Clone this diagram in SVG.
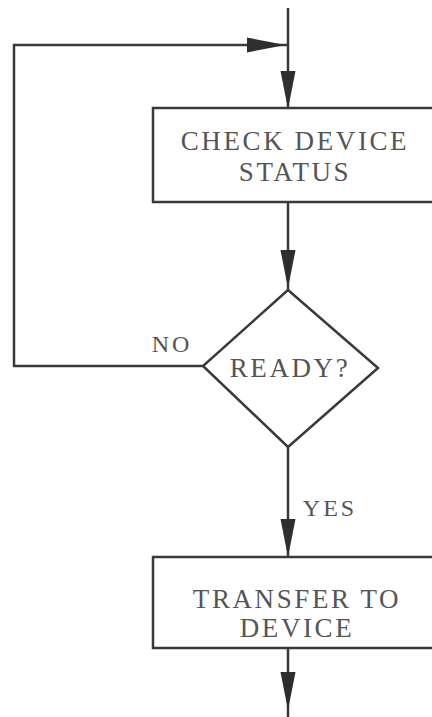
<svg xmlns="http://www.w3.org/2000/svg" width="432" height="717" viewBox="0 0 432 717">
  <style>
    .line { fill: none; stroke: #3a3a3a; stroke-width: 2.5; }
    .shape { fill: #ffffff; stroke: #3a3a3a; stroke-width: 2.5; }
    .label { font-family: "Liberation Serif", "Times New Roman", serif; fill: #555555; text-anchor: middle; }
    .big { font-size: 27px; letter-spacing: 2.6px; }
    .small { font-size: 24px; letter-spacing: 3px; }
    .head { fill: #2e2e2e; }
  </style>
  <defs>
    <!-- narrow tapered arrowhead pointing down, tip at origin -->
    <path id="arrowDown" class="head" d="M -7.5 -36 L 7.5 -36 L 1.2 -4 L 0 0 L -1.2 -4 Z"/>
  </defs>

  <rect width="432" height="717" fill="#ffffff"/>

  <g id="connectors">
    <!-- entry line and loop junction -->
    <path class="line" d="M 288 8 L 288 108"/>
    <path class="line" d="M 203 366 L 14 366 L 14 45 L 288 45"/>
    <!-- check -> decision -->
    <path class="line" d="M 288 202 L 288 290"/>
    <!-- decision -> transfer -->
    <path class="line" d="M 288 447 L 288 557"/>
    <!-- exit -->
    <path class="line" d="M 288 648 L 288 717"/>

    <use href="#arrowDown" transform="translate(283 45) rotate(-90)"/>
    <use href="#arrowDown" transform="translate(288 107)"/>
    <use href="#arrowDown" transform="translate(288 286)"/>
    <use href="#arrowDown" transform="translate(288 555)"/>
    <use href="#arrowDown" transform="translate(288 708)"/>

    <text class="label small" x="172" y="352">NO</text>
    <text class="label small" x="330" y="516">YES</text>
  </g>

  <g id="check-status">
    <rect class="shape" x="153" y="108" width="290" height="94"/>
    <text class="label big" x="295" y="150">CHECK DEVICE</text>
    <text class="label big" x="295" y="181">STATUS</text>
  </g>

  <g id="ready">
    <path class="shape" d="M 288 290 L 378 368 L 288 447 L 203 366 Z"/>
    <text class="label big" x="290" y="377">READY?</text>
  </g>

  <g id="transfer">
    <rect class="shape" x="153" y="557" width="290" height="91"/>
    <text class="label big" x="297" y="608">TRANSFER TO</text>
    <text class="label big" x="297" y="637">DEVICE</text>
  </g>
</svg>
